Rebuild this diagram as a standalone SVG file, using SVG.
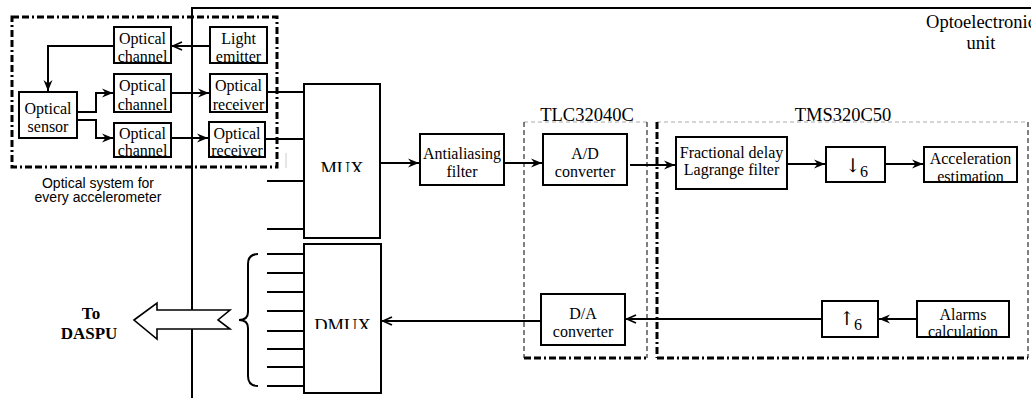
<svg xmlns="http://www.w3.org/2000/svg" width="1031" height="398" viewBox="0 0 1031 398">
  <style>
    .box { fill: #fff; stroke: #000; stroke-width: 2; }
    .t { font-family: "Liberation Serif", "Times New Roman", serif; font-size: 16px; fill: #000; text-anchor: middle; }
    .big { font-family: "Liberation Serif", "Times New Roman", serif; font-size: 18.5px; fill: #000; text-anchor: middle; }
    .sans { font-family: "Liberation Sans", Arial, sans-serif; font-size: 14px; fill: #000; text-anchor: middle; }
    .bold { font-family: "Liberation Serif", "Times New Roman", serif; font-size: 17px; font-weight: bold; fill: #000; text-anchor: middle; }
    .sym { font-family: "DejaVu Serif", "Liberation Serif", serif; font-size: 19px; }
    .wire { fill: none; stroke: #000; stroke-width: 2; }
    .arrow { marker-end: url(#head); }
    .open { marker-end: url(#openhead); }
    .thickdash { fill: none; stroke: #000; stroke-width: 3; stroke-dasharray: 7 3 7 3 2 3; }
    .thindash { fill: none; stroke: #000; stroke-width: 1; stroke-dasharray: 5 3; }
    .graydash { fill: none; stroke: #aaa; stroke-width: 1; stroke-dasharray: 4 3; }
  </style>
  <defs>
    <marker id="head" markerUnits="userSpaceOnUse" markerWidth="12" markerHeight="10" refX="11" refY="5" orient="auto">
      <path d="M0,0.5 L11,5 L0,9.5 L3.5,5 z" fill="#000"/>
    </marker>
    <marker id="openhead" markerUnits="userSpaceOnUse" markerWidth="12" markerHeight="10" refX="11" refY="5" orient="auto">
      <path d="M1,1 L10,5 L1,9" fill="none" stroke="#000" stroke-width="1.8"/>
    </marker>
    <clipPath id="muxclip"><rect x="305" y="85" width="74" height="87"/></clipPath>
    <clipPath id="dmuxclip"><rect x="305" y="245" width="75" height="84"/></clipPath>
  </defs>

  <!-- optoelectronic unit frame -->
  <g id="unit-frame">
    <path class="wire" d="M192,398 V8 H1031"/>
    <text class="big" x="981" y="28">Optoelectronic</text>
    <text class="big" x="981" y="49">unit</text>
  </g>

  <!-- processor group outlines -->
  <g id="tlc-group">
    <path class="graydash" d="M524,122 H647"/>
    <path class="thindash" d="M524,122 V358 M647,122 V358"/>
    <path class="thickdash" d="M524,358 H647" stroke-width="2.5"/>
    <text class="big" x="587" y="121">TLC32040C</text>
  </g>
  <g id="tms-group">
    <path class="graydash" d="M657,122 H1028"/>
    <path class="thindash" d="M1028,122 V358"/>
    <path class="thickdash" d="M657,122 V358 M657,358 H1028"/>
    <text class="big" x="843" y="121">TMS320C50</text>
  </g>

  <!-- connectors -->
  <g id="connectors">
    <path class="wire open" d="M210,46 H172"/>
    <path class="wire arrow" d="M114,46 H48 V91"/>
    <path class="wire arrow" d="M77,112 H96 V93 H113"/>
    <path class="wire arrow" d="M77,120 H96 V138 H113"/>
    <path class="wire arrow" d="M171,93 H209"/>
    <path class="wire arrow" d="M171,138 H208"/>
    <path class="wire" d="M267,92 H304 M265,139 H304 M267,181 H304 M267,229 H304"/>
    <path class="wire arrow" d="M380,163 H419"/>
    <path class="wire arrow" d="M504,163 H542"/>
    <path class="wire arrow" d="M630,165 H675"/>
    <path class="wire arrow" d="M787,164 H825"/>
    <path class="wire arrow" d="M885,164 H923"/>
    <path class="wire arrow" d="M917,319 H879"/>
    <path class="wire open" d="M822,319 H626"/>
    <path class="wire open" d="M541,321 H382"/>
    <path class="wire" d="M267,254 H304 M267,273 H304 M267,292 H304 M267,311 H304 M267,331 H304 M267,349 H304 M267,367 H304 M267,386 H304"/>
    <path class="wire" d="M258,254 Q248,254 248,264 V312 Q248,320 239,320 Q248,320 248,328 V376 Q248,386 258,386"/>
    <line x1="286" y1="153" x2="286" y2="168" stroke="#ccc" stroke-width="1"/>
  </g>

  <!-- output to DASPU -->
  <g id="daspu-arrow">
    <polygon points="134,320 157,303 157,310 230,310 218,320 230,329 157,329 157,339" fill="#fff" stroke="#000" stroke-width="1.6"/>
    <text class="bold" x="91" y="319">To</text>
    <text class="bold" x="89" y="339">DASPU</text>
  </g>

  <!-- optical system -->
  <g id="optical-system">
    <rect class="thickdash" x="12" y="17" width="265" height="150"/>
    <text class="sans" x="98" y="188">Optical system for</text>
    <text class="sans" x="98" y="202">every accelerometer</text>
  </g>
  <g id="optical-sensor">
    <rect class="box" x="19" y="92" width="58" height="46"/>
    <text class="t" x="48" y="114">Optical</text>
    <text class="t" x="48" y="132">sensor</text>
  </g>
  <g id="optical-channel-1">
    <rect class="box" x="114" y="27" width="57" height="36"/>
    <text class="t" x="142.5" y="44">Optical</text>
    <text class="t" x="142.5" y="62">channel</text>
  </g>
  <g id="light-emitter">
    <rect class="box" x="210" y="27" width="57" height="36"/>
    <text class="t" x="238.5" y="44">Light</text>
    <text class="t" x="238.5" y="62">emitter</text>
  </g>
  <g id="optical-channel-2">
    <rect class="box" x="114" y="74" width="57" height="38"/>
    <text class="t" x="142.5" y="91">Optical</text>
    <text class="t" x="142.5" y="110">channel</text>
  </g>
  <g id="optical-receiver-1">
    <rect class="box" x="210" y="74" width="57" height="38"/>
    <text class="t" x="238.5" y="91">Optical</text>
    <text class="t" x="238.5" y="110">receiver</text>
  </g>
  <g id="optical-channel-3">
    <rect class="box" x="114" y="123" width="57" height="34"/>
    <text class="t" x="142.5" y="139">Optical</text>
    <text class="t" x="142.5" y="156">channel</text>
  </g>
  <g id="optical-receiver-2">
    <rect class="box" x="209" y="122" width="56" height="35"/>
    <text class="t" x="237" y="139">Optical</text>
    <text class="t" x="237" y="156">receiver</text>
  </g>

  <!-- multiplexers -->
  <g id="mux">
    <rect class="box" x="304" y="84" width="76" height="154"/>
    <text class="big" x="342" y="175" clip-path="url(#muxclip)">MUX</text>
  </g>
  <g id="dmux">
    <rect class="box" x="304" y="244" width="77" height="149"/>
    <text class="big" x="342.5" y="332" clip-path="url(#dmuxclip)">DMUX</text>
  </g>

  <!-- signal chain -->
  <g id="antialiasing-filter">
    <rect class="box" x="420" y="134" width="84" height="51"/>
    <text class="t" x="462" y="159">Antialiasing</text>
    <text class="t" x="462" y="177">filter</text>
  </g>
  <g id="ad-converter">
    <rect class="box" x="543" y="134" width="84" height="51"/>
    <text class="t" x="585" y="159">A/D</text>
    <text class="t" x="585" y="177">converter</text>
  </g>
  <g id="lagrange-filter">
    <rect class="box" x="676" y="137" width="111" height="52"/>
    <text class="t" x="731.5" y="158">Fractional delay</text>
    <text class="t" x="731.5" y="175">Lagrange filter</text>
  </g>
  <g id="decimator">
    <rect class="box" x="826" y="147" width="59" height="35"/>
    <text class="t" x="856.5" y="172"><tspan class="sym">↓</tspan><tspan font-size="16" dx="-1" dy="5">6</tspan></text>
  </g>
  <g id="acceleration-estimation">
    <rect class="box" x="924" y="147" width="93" height="35"/>
    <text class="t" x="970.5" y="164">Acceleration</text>
    <text class="t" x="970.5" y="182">estimation</text>
  </g>
  <g id="alarms-calculation">
    <rect class="box" x="917" y="301" width="92" height="36"/>
    <text class="t" x="963" y="320">Alarms</text>
    <text class="t" x="963" y="337">calculation</text>
  </g>
  <g id="interpolator">
    <rect class="box" x="822" y="301" width="56" height="36"/>
    <text class="t" x="850.5" y="325"><tspan class="sym">↑</tspan><tspan font-size="16" dx="-1" dy="5">6</tspan></text>
  </g>
  <g id="da-converter">
    <rect class="box" x="541" y="294" width="84" height="51"/>
    <text class="t" x="583" y="319">D/A</text>
    <text class="t" x="583" y="337">converter</text>
  </g>
</svg>
